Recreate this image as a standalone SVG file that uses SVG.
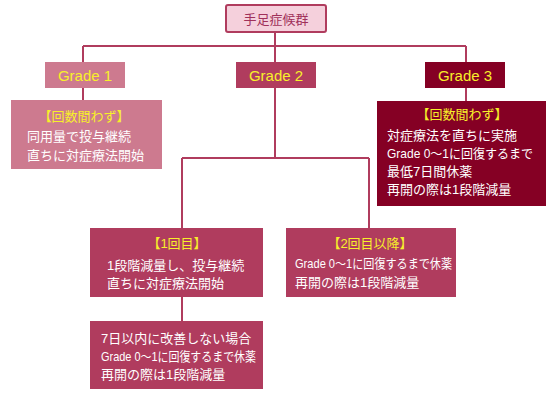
<svg xmlns="http://www.w3.org/2000/svg" width="550" height="408" viewBox="0 0 550 408">
<style>
text{font-family:"Liberation Sans","Noto Sans CJK JP",sans-serif;dominant-baseline:central}
.g{font-size:15px;fill:#f7f02a;text-anchor:middle}
.h{font-size:13px;fill:#f7f02a;text-anchor:middle}
.b{font-size:13px;fill:#ffffff}
.c{fill:none;stroke:#b03c5e;stroke-width:2}
</style>
<rect width="550" height="408" fill="#ffffff"/>
<g id="connectors" class="c">
<path d="M275 32V62M83 46H466M83 46V62M466 46V62"/>
<path d="M83 88V100M466 88V101"/>
<path d="M275 88V158M182 158H369M182 158V228M369 158V228M182 297V321"/>
</g>
<g id="root">
<rect x="226" y="5" width="100" height="27" rx="2" fill="#f5d0dc" stroke="#b03c5e" stroke-width="2"/>
<text x="276" y="19" font-size="13" fill="#a0305a" text-anchor="middle">手足症候群</text>
</g>
<g id="grade1">
<rect x="45" y="62" width="80" height="26" fill="#cd7a8f"/>
<text class="g" x="85" y="75">Grade 1</text>
</g>
<g id="grade2">
<rect x="236" y="62" width="80" height="26" fill="#b03c5e"/>
<text class="g" x="276" y="75">Grade 2</text>
</g>
<g id="grade3">
<rect x="425" y="62" width="80" height="26" fill="#850024"/>
<text class="g" x="465" y="75">Grade 3</text>
</g>
<g id="grade1-detail">
<rect x="11" y="100" width="151" height="69" fill="#cd7a8f"/>
<text class="h" x="84" y="116">【回数間わず】</text>
<text class="b" x="27" y="136">同用量で投与継続</text>
<text class="b" x="27" y="155">直ちに対症療法開始</text>
</g>
<g id="grade3-detail">
<rect x="377" y="101" width="169" height="105" fill="#850024"/>
<text class="h" x="462" y="114">【回数間わず】</text>
<text class="b" x="387" y="135">対症療法を直ちに実施</text>
<text class="b" x="387" y="153" textLength="146" lengthAdjust="spacingAndGlyphs">Grade 0〜1に回復するまで</text>
<text class="b" x="387" y="171">最低7日間休薬</text>
<text class="b" x="387" y="189">再開の際は1段階減量</text>
</g>
<g id="first">
<rect x="90" y="228" width="173" height="69" fill="#b03c5e"/>
<text class="h" x="177" y="243">【1回目】</text>
<text class="b" x="107" y="265">1段階減量し、投与継続</text>
<text class="b" x="107" y="283">直ちに対症療法開始</text>
</g>
<g id="second">
<rect x="286" y="228" width="170" height="69" fill="#b03c5e"/>
<text class="h" x="370" y="243">【2回目以降】</text>
<text class="b" x="295" y="263" textLength="157" lengthAdjust="spacingAndGlyphs">Grade 0〜1に回復するまで休薬</text>
<text class="b" x="295" y="282">再開の際は1段階減量</text>
</g>
<g id="no-improve">
<rect x="90" y="321" width="173" height="68" fill="#b03c5e"/>
<text class="b" x="101" y="338">7日以内に改善しない場合</text>
<text class="b" x="101" y="356" textLength="155" lengthAdjust="spacingAndGlyphs">Grade 0〜1に回復するまで休薬</text>
<text class="b" x="101" y="374">再開の際は1段階減量</text>
</g>
</svg>
